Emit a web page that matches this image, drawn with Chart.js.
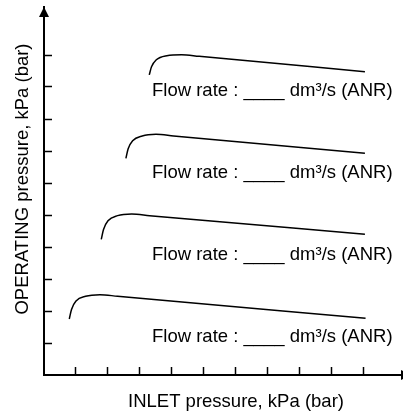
<!DOCTYPE html>
<html>
<head>
<meta charset="utf-8">
<script src="https://cdn.jsdelivr.net/npm/chart.js@4/dist/chart.umd.min.js"></script>
<style>
  html, body { margin: 0; padding: 0; background: #fff; }
  #wrap { width: 403px; height: 412px; position: relative; }
</style>
</head>
<body>
<div id="wrap"><canvas id="flowChart"></canvas></div>
<script>
// axis ticks (no tick labels on the original)
var xTicks = [1, 2, 3, 4, 5, 6, 7, 8, 9, 10];
var yTicks = [1, 2, 3, 4, 5, 6, 7, 8, 9, 10];

// inlet pressure / operating pressure, one pair per flow rate curve
var inlet1 = [0.79, 0.86, 1.00, 1.30, 1.75, 2.30, 10.05];
var oper1  = [1.75, 2.05, 2.31, 2.46, 2.51, 2.46, 1.77];
var inlet2 = [1.79, 1.86, 2.00, 2.30, 2.74, 3.30, 10.03];
var oper2  = [4.24, 4.55, 4.82, 4.98, 5.03, 4.98, 4.40];
var inlet3 = [2.56, 2.63, 2.77, 3.07, 3.50, 4.05, 10.03];
var oper3  = [6.77, 7.07, 7.32, 7.47, 7.52, 7.47, 6.93];
var inlet4 = [3.29, 3.36, 3.51, 3.84, 4.30, 4.85, 10.03];
var oper4  = [9.38, 9.63, 9.85, 9.98, 10.01, 9.96, 9.48];

var flowLabel = "Flow rate : ____ dm\u00B3/s (ANR)";
var xTitle = "INLET pressure, kPa (bar)";
var yTitle = "OPERATING pressure, kPa (bar)";

var FONT = '18.5px "Liberation Sans", Arial, sans-serif';

function pairs(xs, ys) {
    return xs.map(function (x, i) { return { x: x, y: ys[i] }; });
}

function curve(xs, ys) {
    return {
        data: pairs(xs, ys),
        showLine: true,
        borderColor: "#000",
        borderWidth: 1.5,
        pointRadius: 0,
        cubicInterpolationMode: 'monotone',
        fill: false
    };
}

// arrows, axis titles and the flow rate captions
var decorations = {
    id: 'decorations',
    afterDraw: function (chart) {
        var ctx = chart.ctx;
        var a = chart.chartArea;
        var sx = chart.scales.x, sy = chart.scales.y;
        ctx.save();
        ctx.fillStyle = "#000";

        // y arrow
        ctx.beginPath();
        ctx.moveTo(a.left, a.top);
        ctx.lineTo(a.left - 5, a.top + 10);
        ctx.lineTo(a.left + 5, a.top + 10);
        ctx.closePath();
        ctx.fill();

        // x arrow
        ctx.beginPath();
        ctx.moveTo(a.right + 8, a.bottom);
        ctx.lineTo(a.right - 2, a.bottom - 5);
        ctx.lineTo(a.right - 2, a.bottom + 5);
        ctx.closePath();
        ctx.fill();

        ctx.font = FONT;
        ctx.textBaseline = 'alphabetic';

        // captions under each curve
        ctx.textAlign = 'left';
        [1.03, 3.59, 6.16, 8.72].forEach(function (v) {
            ctx.fillText(flowLabel, sx.getPixelForValue(3.375), sy.getPixelForValue(v));
        });

        // axis titles
        ctx.textAlign = 'center';
        ctx.fillText(xTitle, 236, 407);
        ctx.translate(28, 179);
        ctx.rotate(-Math.PI / 2);
        ctx.fillText(yTitle, 0, 0);
        ctx.restore();
    }
};

var axisCommon = {
    type: 'linear',
    min: 0,
    ticks: { display: false },
    grid: { drawOnChartArea: false, drawTicks: true, tickLength: -8, tickWidth: 1.5, tickColor: "#000" },
    border: { display: true, color: "#000", width: 2 }
};

new Chart(document.getElementById("flowChart"), {
    type: 'scatter',
    data: {
        datasets: [
            curve(inlet1, oper1),
            curve(inlet2, oper2),
            curve(inlet3, oper3),
            curve(inlet4, oper4)
        ]
    },
    options: {
        responsive: true,
        maintainAspectRatio: false,
        animation: false,
        layout: { padding: { left: 44, top: 7, right: 0, bottom: 37 } },
        plugins: { legend: { display: false }, tooltip: { enabled: false } },
        scales: {
            x: Object.assign({}, axisCommon, {
                max: 11.22,
                afterFit: function (s) { s.height = 0; },
                afterBuildTicks: function (s) { s.ticks = xTicks.map(function (v) { return { value: v }; }); }
            }),
            y: Object.assign({}, axisCommon, {
                max: 11.5,
                afterFit: function (s) { s.width = 0; },
                afterBuildTicks: function (s) { s.ticks = yTicks.map(function (v) { return { value: v }; }); }
            })
        }
    },
    plugins: [decorations]
});
</script>
</body>
</html>
